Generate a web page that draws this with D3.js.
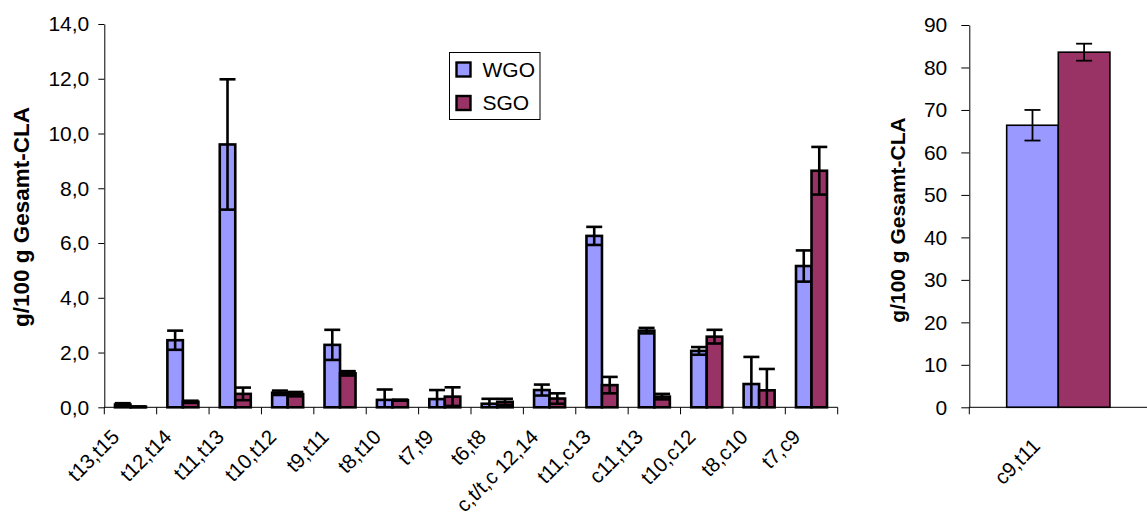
<!DOCTYPE html>
<html>
<head>
<meta charset="utf-8">
<script src="https://cdn.jsdelivr.net/npm/d3@7"></script>
<style>
  html, body { margin: 0; padding: 0; background: #fff; }
  svg { display: block; }
  text { font-family: "Liberation Sans", Arial, sans-serif; fill: #000; }
</style>
</head>
<body>
<svg id="chart" width="1147" height="515"></svg>
<script>
// Isomer categories (minor isomers, left panel)
const categories = ["t13,t15", "t12,t14", "t11,t13", "t10,t12", "t9,t11", "t8,t10", "t7,t9",
  "t6,t8", "c,t/t,c 12,14", "t11,c13", "c11,t13", "t10,c12", "t8,c10", "t7,c9"];
const seriesNames = ["WGO", "SGO"];
const wgoValues = [0.10, 2.45, 9.60, 0.53, 2.28, 0.27, 0.30, 0.13, 0.63, 6.26, 2.80, 2.06, 0.85, 5.16];
const wgoErrors = [0.05, 0.35, 2.38, 0.08, 0.55, 0.38, 0.33, 0.18, 0.20, 0.33, 0.10, 0.14, 0.99, 0.57];
const sgoValues = [0.02, 0.20, 0.49, 0.48, 1.24, 0.26, 0.39, 0.20, 0.32, 0.81, 0.39, 2.58, 0.62, 8.64];
const sgoErrors = [0.01, 0.04, 0.23, 0.08, 0.08, 0.02, 0.34, 0.11, 0.19, 0.30, 0.10, 0.25, 0.78, 0.87];
const leftTicks = [0, 2, 4, 6, 8, 10, 12, 14];

// Main isomer (right panel)
const mainCategories = ["c9,t11"];
const mainWgo = [66.4];
const mainWgoErr = [3.6];
const mainSgo = [83.6];
const mainSgoErr = [2.0];
const rightTicks = [0, 10, 20, 30, 40, 50, 60, 70, 80, 90];

const yTitle = "g/100 g Gesamt-CLA";
const colors = { WGO: "#9999ff", SGO: "#993366" };

const svg = d3.select("#chart");
const de = d3.formatLocale({ decimal: ",", thousands: ".", grouping: [3], currency: ["", " €"] });
const fmt1 = de.format(".1f");

function panel(opts) {
  const g = svg.append("g");
  const x = d3.scaleBand().domain(opts.cats).range([opts.x0, opts.x1]).paddingInner(0).paddingOuter(0);
  const y = d3.scaleLinear().domain(opts.yDomain).range([opts.y0, opts.y1]);
  const bw = x.bandwidth() * opts.barFrac;
  const sub = d3.scaleBand().domain(seriesNames).range([0, bw * 2]);
  const yMin = opts.yDomain[0];

  const rows = opts.cats.map((c, i) => ({
    cat: c,
    vals: [
      { s: "WGO", v: opts.wgo[i], e: opts.wgoErr[i] },
      { s: "SGO", v: opts.sgo[i], e: opts.sgoErr[i] }
    ]
  }));

  const groups = g.selectAll("g.grp").data(rows).join("g").attr("class", "grp")
    .attr("transform", d => `translate(${x(d.cat) + (x.bandwidth() - bw * 2) / 2},0)`);

  groups.selectAll("rect").data(d => d.vals).join("rect")
    .attr("x", d => sub(d.s))
    .attr("y", d => y(d.v))
    .attr("width", sub.bandwidth())
    .attr("height", d => y(0) - y(d.v))
    .attr("fill", d => colors[d.s])
    .attr("stroke", "#000")
    .attr("stroke-width", opts.barStroke);

  // error bars (clipped at the bottom of the plot area)
  const eb = groups.selectAll("g.err").data(d => d.vals).join("g").attr("class", "err")
    .attr("stroke", "#000").attr("stroke-width", opts.errStroke);
  const cx = d => sub(d.s) + sub.bandwidth() / 2;
  eb.append("line")
    .attr("x1", cx).attr("x2", cx)
    .attr("y1", d => y(Math.max(yMin, d.v - d.e))).attr("y2", d => y(d.v + d.e));
  eb.append("line")
    .attr("x1", d => cx(d) - opts.cap / 2).attr("x2", d => cx(d) + opts.cap / 2)
    .attr("y1", d => y(d.v + d.e)).attr("y2", d => y(d.v + d.e));
  eb.filter(d => d.v - d.e >= yMin).append("line")
    .attr("x1", d => cx(d) - opts.cap / 2).attr("x2", d => cx(d) + opts.cap / 2)
    .attr("y1", d => y(d.v - d.e)).attr("y2", d => y(d.v - d.e));

  // y axis
  const yAxis = g.append("g").attr("transform", `translate(${opts.x0},0)`)
    .call(d3.axisLeft(y).tickValues(opts.ticks).tickFormat(opts.tickFormat)
      .tickSize(opts.yTickSize).tickPadding(opts.yTickPad).tickSizeOuter(0));
  yAxis.select(".domain").attr("stroke", "#000").attr("stroke-width", 1);
  yAxis.selectAll(".tick line").attr("stroke", "#000");
  yAxis.selectAll(".tick text").style("font-size", opts.tickFont + "px").attr("fill", "#000");

  // x axis: line plus ticks at category boundaries
  const xg = g.append("g").attr("transform", `translate(0,${y(0)})`);
  xg.append("line").attr("x1", opts.x0).attr("x2", opts.xAxisEnd).attr("y1", 0).attr("y2", 0)
    .attr("stroke", "#000").attr("stroke-width", 1);
  const bounds = opts.cats.map(c => x(c)).concat(opts.tickEnd ? [x.range()[1]] : []);
  xg.selectAll("line.bt").data(bounds).join("line").attr("class", "bt")
    .attr("x1", d => d).attr("x2", d => d).attr("y1", 0).attr("y2", 7)
    .attr("stroke", "#000");
  xg.selectAll("text").data(opts.cats).join("text")
    .attr("transform", d => `translate(${x(d) + x.bandwidth() / 2 - opts.labelDx},${opts.labelDy}) rotate(-45)`)
    .attr("text-anchor", "end")
    .style("font-size", opts.labelFont + "px")
    .text(d => d);

  // y title
  g.append("text")
    .attr("transform", `translate(${opts.titleX},${opts.titleY}) rotate(-90)`)
    .attr("text-anchor", "middle")
    .attr("dominant-baseline", "central")
    .style("font-size", opts.titleFont + "px")
    .style("font-weight", "bold")
    .text(yTitle);
  return g;
}

panel({
  cats: categories, wgo: wgoValues, wgoErr: wgoErrors, sgo: sgoValues, sgoErr: sgoErrors,
  x0: 104.3, x1: 837.7, xAxisEnd: 837.7, tickEnd: true,
  y0: 407.3, y1: 24, yDomain: [0, 14], ticks: leftTicks, tickFormat: fmt1,
  barFrac: 0.296, barStroke: 2.6, errStroke: 2.6, cap: 16,
  yTickSize: 6, yTickPad: 9, tickFont: 21,
  labelDx: 10, labelDy: 31, labelFont: 20.5,
  titleX: 21, titleY: 217, titleFont: 22.5
});

panel({
  cats: mainCategories, wgo: mainWgo, wgoErr: mainWgoErr, sgo: mainSgo, sgoErr: mainSgoErr,
  x0: 969.3, x1: 1147.3, xAxisEnd: 1147, tickEnd: false,
  y0: 407.3, y1: 25, yDomain: [0, 90], ticks: rightTicks, tickFormat: d3.format("d"),
  barFrac: 0.29, barStroke: 1.6, errStroke: 1.8, cap: 16,
  yTickSize: 8, yTickPad: 14, tickFont: 21,
  labelDx: 17, labelDy: 40, labelFont: 20.5,
  titleX: 897, titleY: 220, titleFont: 21
});

// legend
const legend = svg.append("g").attr("transform", "translate(449.5,52.5)");
legend.append("rect").attr("width", 90.5).attr("height", 67)
  .attr("fill", "#fff").attr("stroke", "#000").attr("stroke-width", 1);
const li = legend.selectAll("g.li").data(seriesNames).join("g").attr("class", "li")
  .attr("transform", (d, i) => `translate(7,${10 + i * 33.5})`);
li.append("rect").attr("width", 14).attr("height", 14)
  .attr("fill", d => colors[d]).attr("stroke", "#000").attr("stroke-width", 2.4);
li.append("text").attr("x", 26).attr("y", 14).style("font-size", "21px").text(d => d);
</script>
</body>
</html>
